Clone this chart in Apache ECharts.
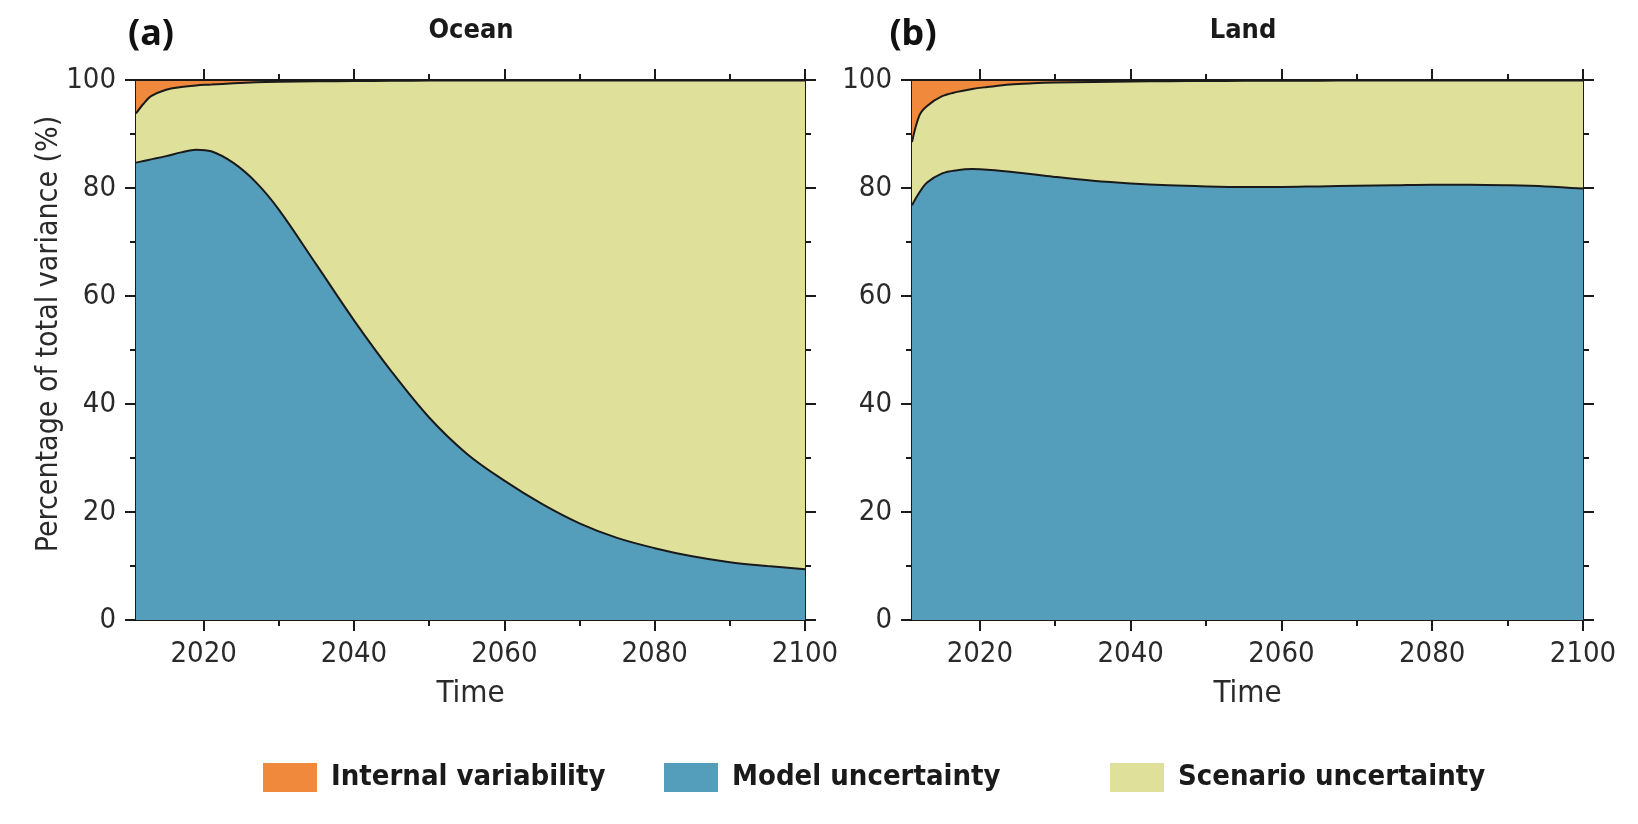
<!DOCTYPE html>
<html><head><meta charset="utf-8">
<script src="https://cdn.jsdelivr.net/npm/echarts@6/dist/echarts.min.js"></script>
<style>html,body{margin:0;padding:0;background:#fff}#c{width:1638px;height:824px}</style>
</head><body><div id="c"></div>
<script>
const years = [2011,2012,2013,2015,2017,2019,2021,2024,2027,2030,2035,2040,2045,2050,2055,2060,2065,2070,2075,2080,2085,2090,2095,2100];
const oceanModel    = [84.7,85.0,85.3,85.9,86.6,87.1,86.8,84.6,81.0,76.0,65.8,55.5,46.0,37.5,30.8,25.8,21.5,17.9,15.2,13.3,11.8,10.7,10.0,9.4];
const oceanScenario = [9.1,10.6,11.7,12.3,12.1,11.9,12.35,14.8,18.58,23.67,33.95,44.3,53.85,62.4,69.1,74.1,78.4,82.0,84.7,86.6,88.1,89.2,89.9,90.5];
const oceanInternal = [6.2,4.4,3.0,1.8,1.3,1.0,0.85,0.6,0.42,0.33,0.25,0.2,0.15,0.1,0.1,0.1,0.1,0.1,0.1,0.1,0.1,0.1,0.1,0.1];
const landModel     = [76.8,79.2,81.0,82.7,83.3,83.5,83.4,83.0,82.55,82.05,81.35,80.85,80.5,80.3,80.2,80.2,80.3,80.4,80.5,80.6,80.6,80.5,80.3,79.9];
const landScenario  = [11.7,14.3,14.2,14.3,14.5,14.85,15.3,16.15,16.83,17.47,18.3,18.87,19.28,19.52,19.65,19.67,19.58,19.5,19.4,19.3,19.3,19.4,19.6,20.0];
const landInternal  = [11.5,6.5,4.8,3.0,2.2,1.65,1.3,0.85,0.62,0.48,0.35,0.28,0.22,0.18,0.15,0.13,0.12,0.1,0.1,0.1,0.1,0.1,0.1,0.1];
const xLabelYears = [2020,2040,2060,2080,2100];
const xMajorTicks = [2020,2040,2060,2080,2100];
const xMinorTicks = [2030,2050,2070,2090];
const panelTitles = ['Ocean','Land'];
const panelLetters = ['(a)','(b)'];
const colors = {'Internal variability':'#F0893B','Model uncertainty':'#559EBB','Scenario uncertainty':'#DFE09A'};

const labelFont = '"DejaVu Sans Condensed","Liberation Sans Narrow",sans-serif';
const boldFont = '"DejaVu Sans Condensed","Liberation Sans Narrow",sans-serif';
const black = '#1a1a1a';

const grids = [
  {left:136, top:80, width:669, height:540},
  {left:912, top:80, width:671, height:540}
];

function xAx(g, pos, ticks, len, showLine, labels) {
  const a = {
    gridIndex:g, type:'value', min:2011, max:2100, position:pos,
    axisLine:{show:showLine, onZero:false, lineStyle:{color:black, width:2}},
    axisTick:{show:true, customValues:ticks, length:len, lineStyle:{color:black, width:2}},
    axisLabel:{show:false},
    splitLine:{show:false}
  };
  if (labels) {
    a.axisLabel = {show:true, customValues:labels, fontSize:29, margin:20, color:'#2a2a2a', fontFamily:labelFont, formatter:v=>String(v)};
    a.name = 'Time';
    a.nameLocation = 'middle';
    a.nameGap = 58;
    a.nameTextStyle = {fontSize:31, color:'#2a2a2a', fontFamily:labelFont};
  }
  return a;
}
function yAx(g, pos, labels) {
  return {
    gridIndex:g, type:'value', min:0, max:100, interval:20, position:pos,
    axisLine:{show:true, onZero:false, lineStyle:{color:black, width:2}},
    axisTick:{show:true, length:11, lineStyle:{color:black, width:2}},
    minorTick:{show:true, splitNumber:2, length:6, lineStyle:{color:black, width:2}},
    axisLabel:{show:labels, fontSize:29, margin:20, color:'#2a2a2a', fontFamily:labelFont},
    splitLine:{show:false}, minorSplitLine:{show:false}
  };
}
const xAxis = [], yAxis = [];
for (let g = 0; g < 2; g++) {
  xAxis.push(xAx(g,'bottom',xMajorTicks,11,true,xLabelYears));
  xAxis.push(xAx(g,'bottom',xMinorTicks,6,false,null));
  xAxis.push(xAx(g,'top',xMajorTicks,11,true,null));
  xAxis.push(xAx(g,'top',xMinorTicks,6,false,null));
  yAxis.push(yAx(g,'left',true));
  yAxis.push(yAx(g,'right',false));
}
const panels = [
  {model:oceanModel, scenario:oceanScenario, internal:oceanInternal},
  {model:landModel, scenario:landScenario, internal:landInternal}
];
// stacked manually: each band is drawn as a filled area down to 0, top layers first
const series = [];
for (let g = 0; g < 2; g++) {
  const p = panels[g];
  const layers = [
    {name:'Internal variability', top:years.map((y,i)=>p.model[i]+p.scenario[i]+p.internal[i])},
    {name:'Scenario uncertainty', top:years.map((y,i)=>p.model[i]+p.scenario[i])},
    {name:'Model uncertainty', top:years.map((y,i)=>p.model[i])}
  ];
  layers.forEach(L => {
    series.push({
      name:L.name, type:'line', xAxisIndex:g*4, yAxisIndex:g*2,
      smooth:0.35, showSymbol:false, symbol:'none',
      color:colors[L.name],
      lineStyle:{color:black, width:2},
      areaStyle:{color:colors[L.name], opacity:1, origin:'start'},
      data: years.map((y,i)=>[y, L.top[i]])
    });
  });
}
const legendOrder = ['Internal variability','Model uncertainty','Scenario uncertainty'];
const legendLefts = [258, 659, 1105];
const legend = legendOrder.map((n,i)=>({
  data:[n], left:legendLefts[i], top:758, icon:'rect', itemWidth:54, itemHeight:29,
  itemStyle:{color:colors[n], borderWidth:0},
  selectedMode:false,
  textStyle:{fontSize:29, fontWeight:'bold', color:'#1a1a1a', fontFamily:boldFont, padding:[0,0,0,9]}
}));

const graphic = [];
const titleX = [471, 1243], letterX = [151, 913];
for (let g = 0; g < 2; g++) {
  graphic.push({type:'text', x:titleX[g], y:31, style:{text:panelTitles[g], fontSize:27, fontWeight:'bold', fontFamily:boldFont, fill:'#1a1a1a', textAlign:'center', textVerticalAlign:'middle'}});
  graphic.push({type:'text', x:letterX[g], y:35, style:{text:panelLetters[g], fontSize:36, fontWeight:'bold', fontFamily:'"Noto Sans","DejaVu Sans",sans-serif', fill:'#111', textAlign:'center', textVerticalAlign:'middle'}});
}
graphic.push({type:'text', x:49, y:334, rotation:Math.PI/2, style:{text:'Percentage of total variance (%)', fontSize:30, fontFamily:labelFont, fill:'#2a2a2a', textAlign:'center', textVerticalAlign:'middle'}});

const chart = echarts.init(document.getElementById('c'), null, {renderer:'canvas'});
chart.setOption({
  animation:false,
  backgroundColor:'#fff',
  grid:grids, xAxis, yAxis, series, legend, graphic
});
</script>
</body></html>
